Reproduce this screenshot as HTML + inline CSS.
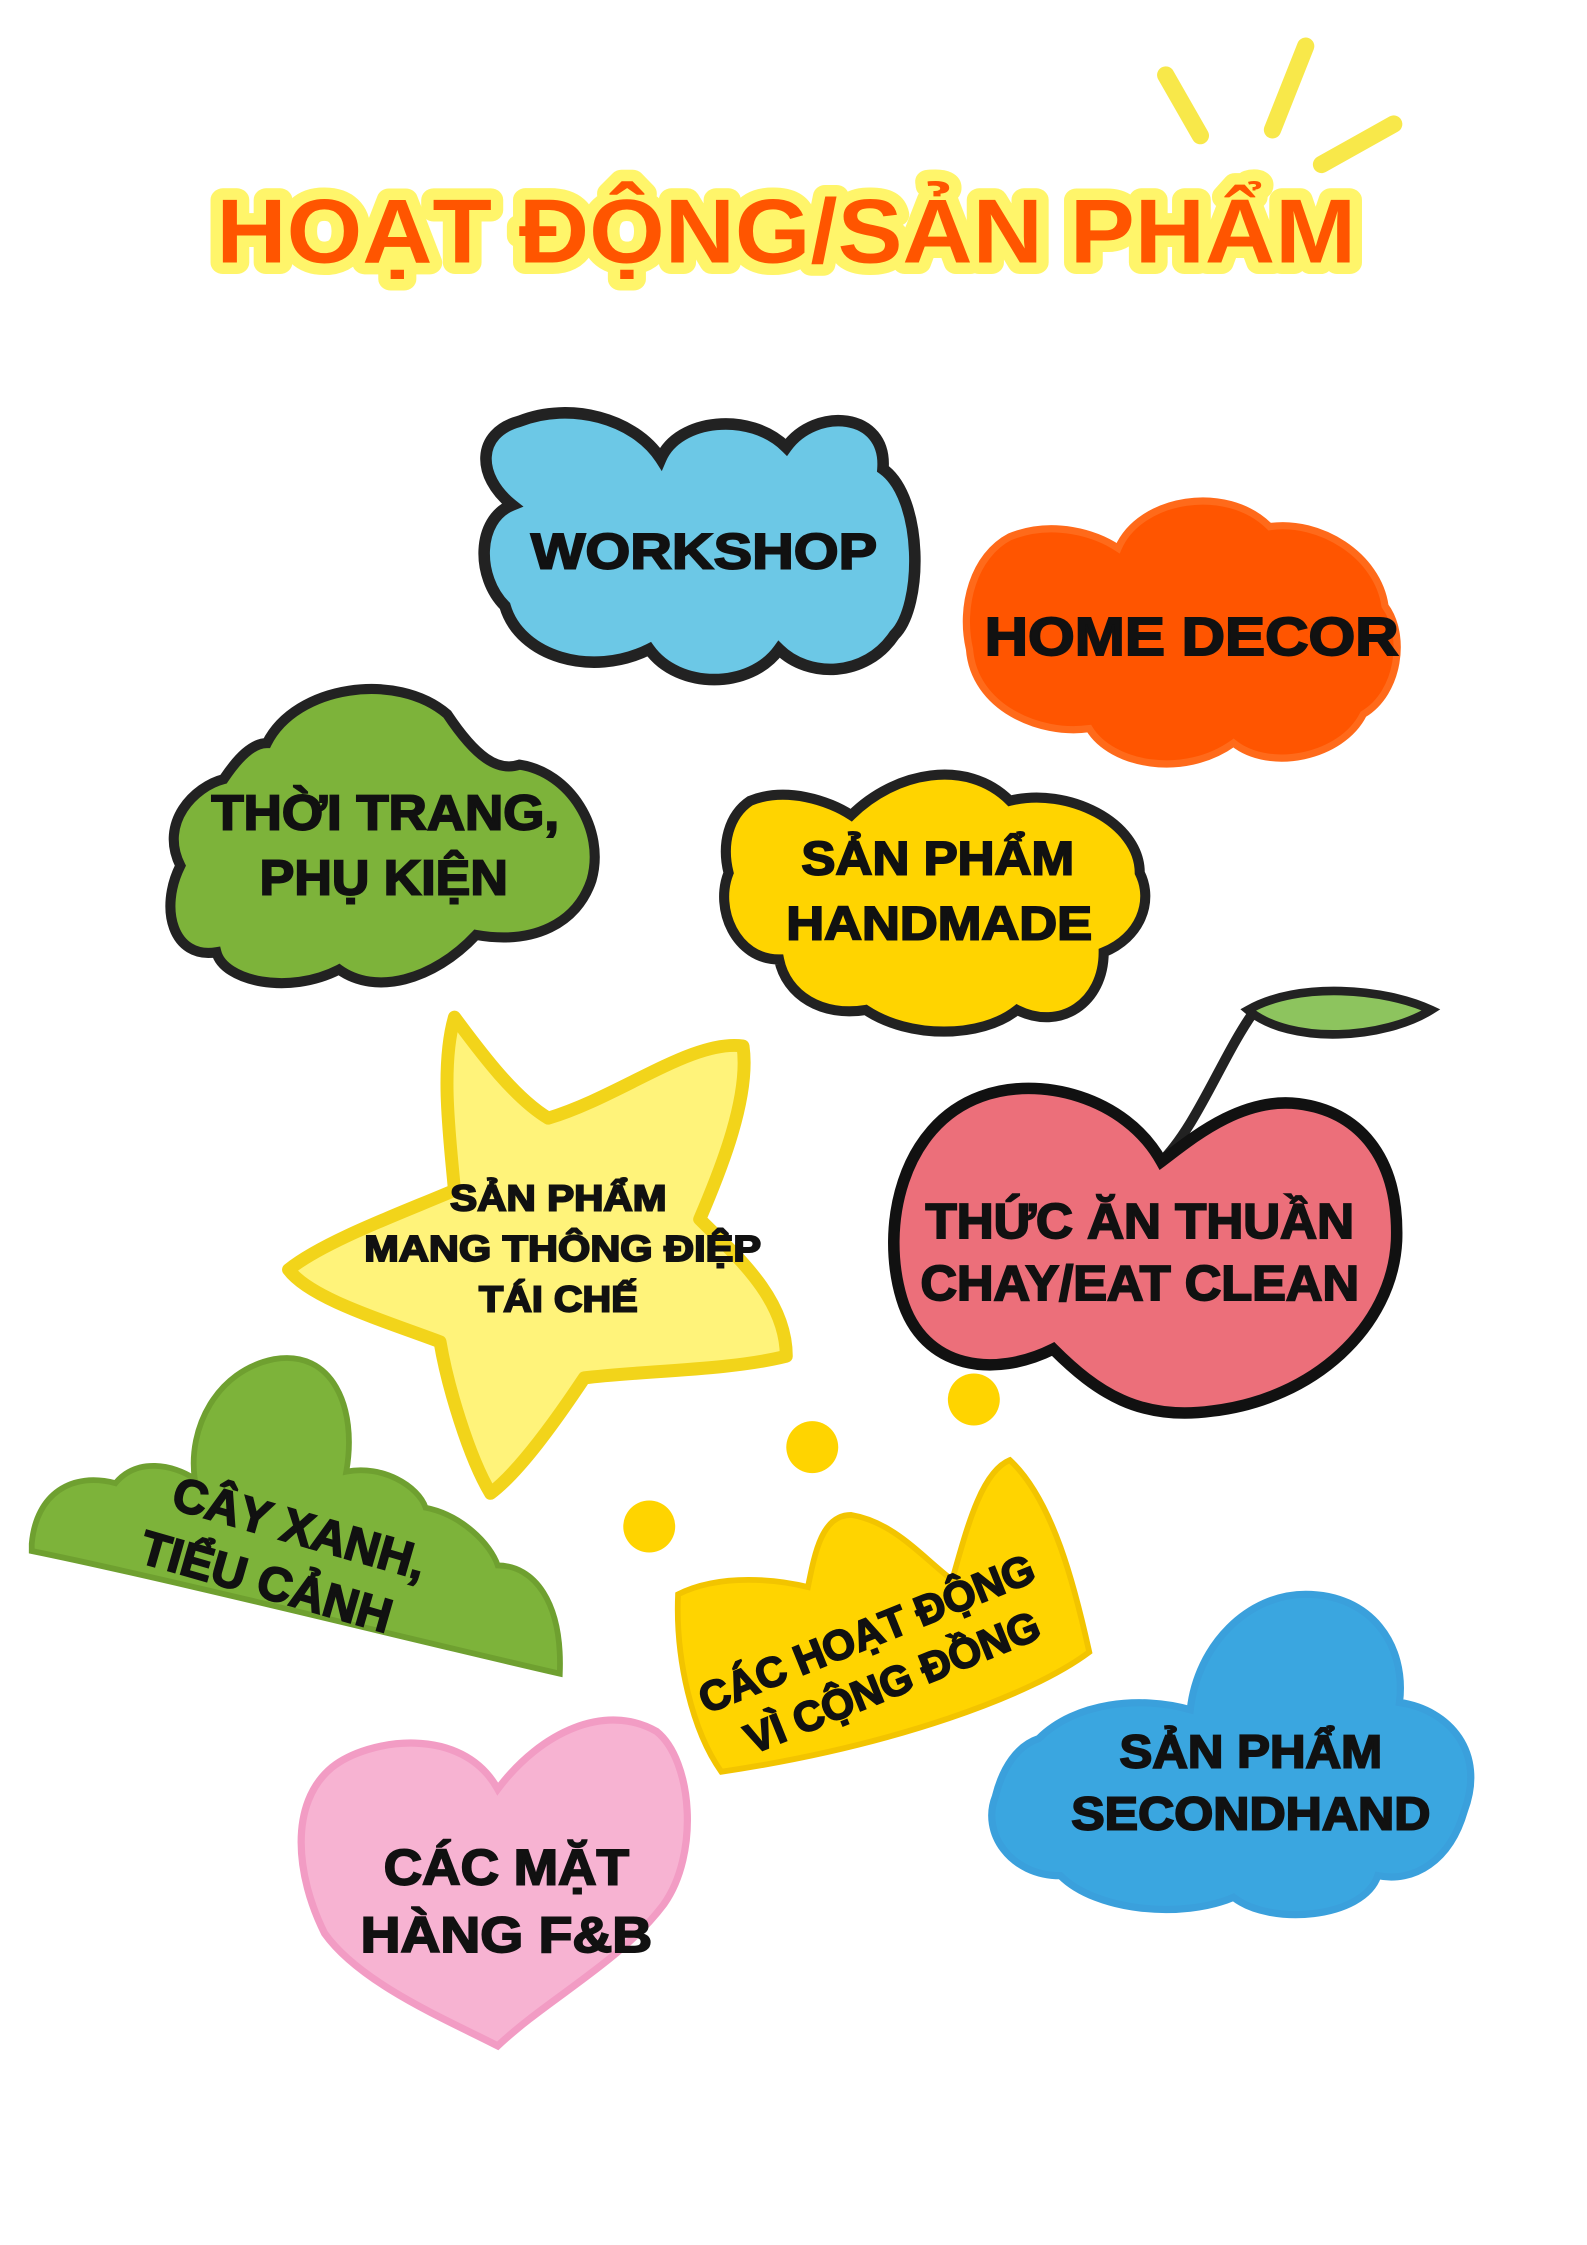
<!DOCTYPE html>
<html><head><meta charset="utf-8"><style>
html,body{margin:0;padding:0;background:#fff;}
svg{display:block}
text{font-family:"Liberation Sans","DejaVu Sans",sans-serif;font-weight:bold;}
.lbl{fill:#111;stroke:#111;stroke-width:1.3;text-anchor:middle;}
</style></head><body>
<svg width="1587" height="2245" viewBox="0 0 1100 1556" preserveAspectRatio="none" xmlns="http://www.w3.org/2000/svg">
<rect width="1100" height="1556" fill="#fff"/>
<g stroke="#F8E84A" stroke-width="12" stroke-linecap="round">
<line x1="808" y1="52" x2="832" y2="94"/>
<line x1="905" y1="32" x2="882" y2="90"/>
<line x1="966" y1="86" x2="916" y2="114"/>
</g>
<text x="545" y="182" font-size="63" text-anchor="middle" textLength="790" lengthAdjust="spacingAndGlyphs" fill="#FF5500" stroke="#FFF56A" stroke-width="16" stroke-linejoin="round" paint-order="stroke">HOẠT ĐỘNG/SẢN PHẨM</text>

<path d="M360,292 C395,278 440,290 458,318 C470,290 520,285 545,310 C565,282 615,285 612,325 C640,345 640,420 620,440 C600,470 560,470 540,450 C520,478 470,478 450,450 C410,470 360,455 350,420 C330,400 330,360 355,350 C330,330 330,300 360,292Z" fill="#6CC8E6" stroke="#222" stroke-width="8"/>
<text class="lbl" x="488" y="394" font-size="35" textLength="240" lengthAdjust="spacingAndGlyphs">WORKSHOP</text>

<path d="M700,372 C730,360 760,370 775,380 C790,345 850,335 880,365 C915,360 955,385 960,420 C975,440 970,480 945,495 C930,525 880,535 855,515 C820,540 770,530 755,505 C720,510 675,490 672,450 C665,420 675,385 700,372Z" fill="#FF5500" stroke="#FF6A1A" stroke-width="5"/>
<text class="lbl" x="826" y="454" font-size="37" textLength="287" lengthAdjust="spacingAndGlyphs">HOME DECOR</text>

<path d="M185,515 C205,475 275,465 310,495 C330,525 345,535 360,530 C395,535 420,575 410,610 C400,640 370,655 330,648 C300,680 260,690 235,672 C200,690 155,680 150,660 C120,665 110,630 125,600 C110,570 135,545 155,540 C165,525 175,515 185,515Z" fill="#7DB33A" stroke="#222" stroke-width="7"/>
<text class="lbl" x="267" y="575" font-size="34" textLength="241" lengthAdjust="spacingAndGlyphs">THỜI TRANG,</text>
<text class="lbl" x="266" y="620" font-size="34" textLength="172" lengthAdjust="spacingAndGlyphs">PHỤ KIỆN</text>

<path d="M520,555 C545,545 575,555 590,565 C620,535 670,525 700,555 C740,545 790,570 790,605 C800,625 790,650 765,660 C765,695 735,715 705,700 C680,720 630,720 600,700 C570,705 545,690 540,665 C510,665 495,630 505,605 C500,585 505,565 520,555Z" fill="#FFD400" stroke="#222" stroke-width="7"/>
<text class="lbl" x="650" y="606" font-size="33" textLength="189" lengthAdjust="spacingAndGlyphs">SẢN PHẨM</text>
<text class="lbl" x="651" y="651" font-size="33" textLength="212" lengthAdjust="spacingAndGlyphs">HANDMADE</text>

<path d="M315,705 C330,725 355,760 380,775 C430,760 480,720 515,725 C520,760 500,810 485,845 C510,870 545,900 545,940 C505,950 445,950 405,955 C385,985 360,1020 340,1035 C325,1010 310,960 305,930 C265,915 215,900 200,880 C225,860 280,840 315,825 C312,790 305,740 315,705Z" fill="#FFF37A" stroke="#F2D41A" stroke-width="9" stroke-linejoin="round"/>
<text class="lbl" x="387" y="839" font-size="25" textLength="150" lengthAdjust="spacingAndGlyphs">SẢN PHẨM</text>
<text class="lbl" x="390" y="874" font-size="25" textLength="275" lengthAdjust="spacingAndGlyphs">MANG THÔNG ĐIỆP</text>
<text class="lbl" x="387" y="909" font-size="25" textLength="110" lengthAdjust="spacingAndGlyphs">TÁI CHẾ</text>

<path d="M805,805 C830,780 848,730 870,700" fill="none" stroke="#222" stroke-width="7"/>
<path d="M865,700 C900,680 960,685 992,700 C960,720 895,725 865,700Z" fill="#8DC45E" stroke="#222" stroke-width="6"/>
<path d="M805,805 C780,760 720,745 680,760 C625,780 610,850 625,900 C640,950 690,955 730,935 C760,965 790,985 840,978 C910,970 965,920 968,860 C970,800 940,770 900,765 C860,760 825,790 805,805Z" fill="#EC6F7A" stroke="#111" stroke-width="8"/>
<text class="lbl" x="790" y="858" font-size="34" textLength="297" lengthAdjust="spacingAndGlyphs">THỨC ĂN THUẦN</text>
<text class="lbl" x="790" y="901" font-size="34" textLength="304" lengthAdjust="spacingAndGlyphs">CHAY/EAT CLEAN</text>

<g fill="#FFD400"><circle cx="675" cy="970" r="18"/><circle cx="563" cy="1003" r="18"/><circle cx="450" cy="1058" r="18"/></g>

<path d="M22,1070 C25,1035 50,1020 80,1028 C95,1010 120,1015 135,1025 C130,990 150,950 190,942 C230,935 248,975 240,1020 C265,1015 290,1030 295,1045 C320,1050 340,1070 345,1085 C370,1085 390,1110 388,1160 C300,1140 120,1095 22,1075Z" fill="#7DB33A" stroke="#6FA030" stroke-width="4"/>
<g transform="rotate(16 195 1085)">
<text class="lbl" x="200" y="1068" font-size="33">CÂY XANH,</text>
<text class="lbl" x="188" y="1110" font-size="33">TIỂU CẢNH</text>
</g>

<path d="M470,1105 C500,1090 540,1095 560,1100 C565,1075 570,1050 590,1050 C620,1055 640,1080 660,1095 C670,1060 680,1020 700,1012 C730,1040 745,1100 755,1145 C715,1175 620,1210 500,1228 C480,1200 468,1150 470,1105Z" fill="#FFD400" stroke="#F2C400" stroke-width="4"/>
<g transform="rotate(-22 610 1150)">
<text class="lbl" x="608" y="1140" font-size="29">CÁC HOẠT ĐỘNG</text>
<text class="lbl" x="612" y="1178" font-size="29">VÌ CỘNG ĐỒNG</text>
</g>

<path d="M345,1240 C320,1195 255,1205 230,1225 C200,1250 205,1300 225,1340 C250,1375 310,1400 345,1418 C380,1385 430,1360 460,1320 C485,1285 480,1220 455,1200 C420,1180 375,1200 345,1240Z" fill="#F7B3D2" stroke="#F29CC4" stroke-width="5"/>
<text class="lbl" x="351" y="1306" font-size="35" textLength="170" lengthAdjust="spacingAndGlyphs">CÁC MẶT</text>
<text class="lbl" x="351" y="1353" font-size="35" textLength="202" lengthAdjust="spacingAndGlyphs">HÀNG F&amp;B</text>

<path d="M720,1205 C745,1180 790,1175 825,1185 C830,1140 865,1105 905,1105 C950,1105 975,1140 970,1180 C1005,1185 1030,1215 1015,1255 C1005,1290 980,1305 955,1300 C945,1330 880,1335 855,1315 C820,1330 760,1325 735,1300 C700,1300 680,1270 690,1245 C695,1225 705,1210 720,1205Z" fill="#3AA6E0" stroke="#3AA0DC" stroke-width="5"/>
<text class="lbl" x="867" y="1225" font-size="32" textLength="182" lengthAdjust="spacingAndGlyphs">SẢN PHẨM</text>
<text class="lbl" x="867" y="1268" font-size="32" textLength="249" lengthAdjust="spacingAndGlyphs">SECONDHAND</text>
</svg>
</body></html>
